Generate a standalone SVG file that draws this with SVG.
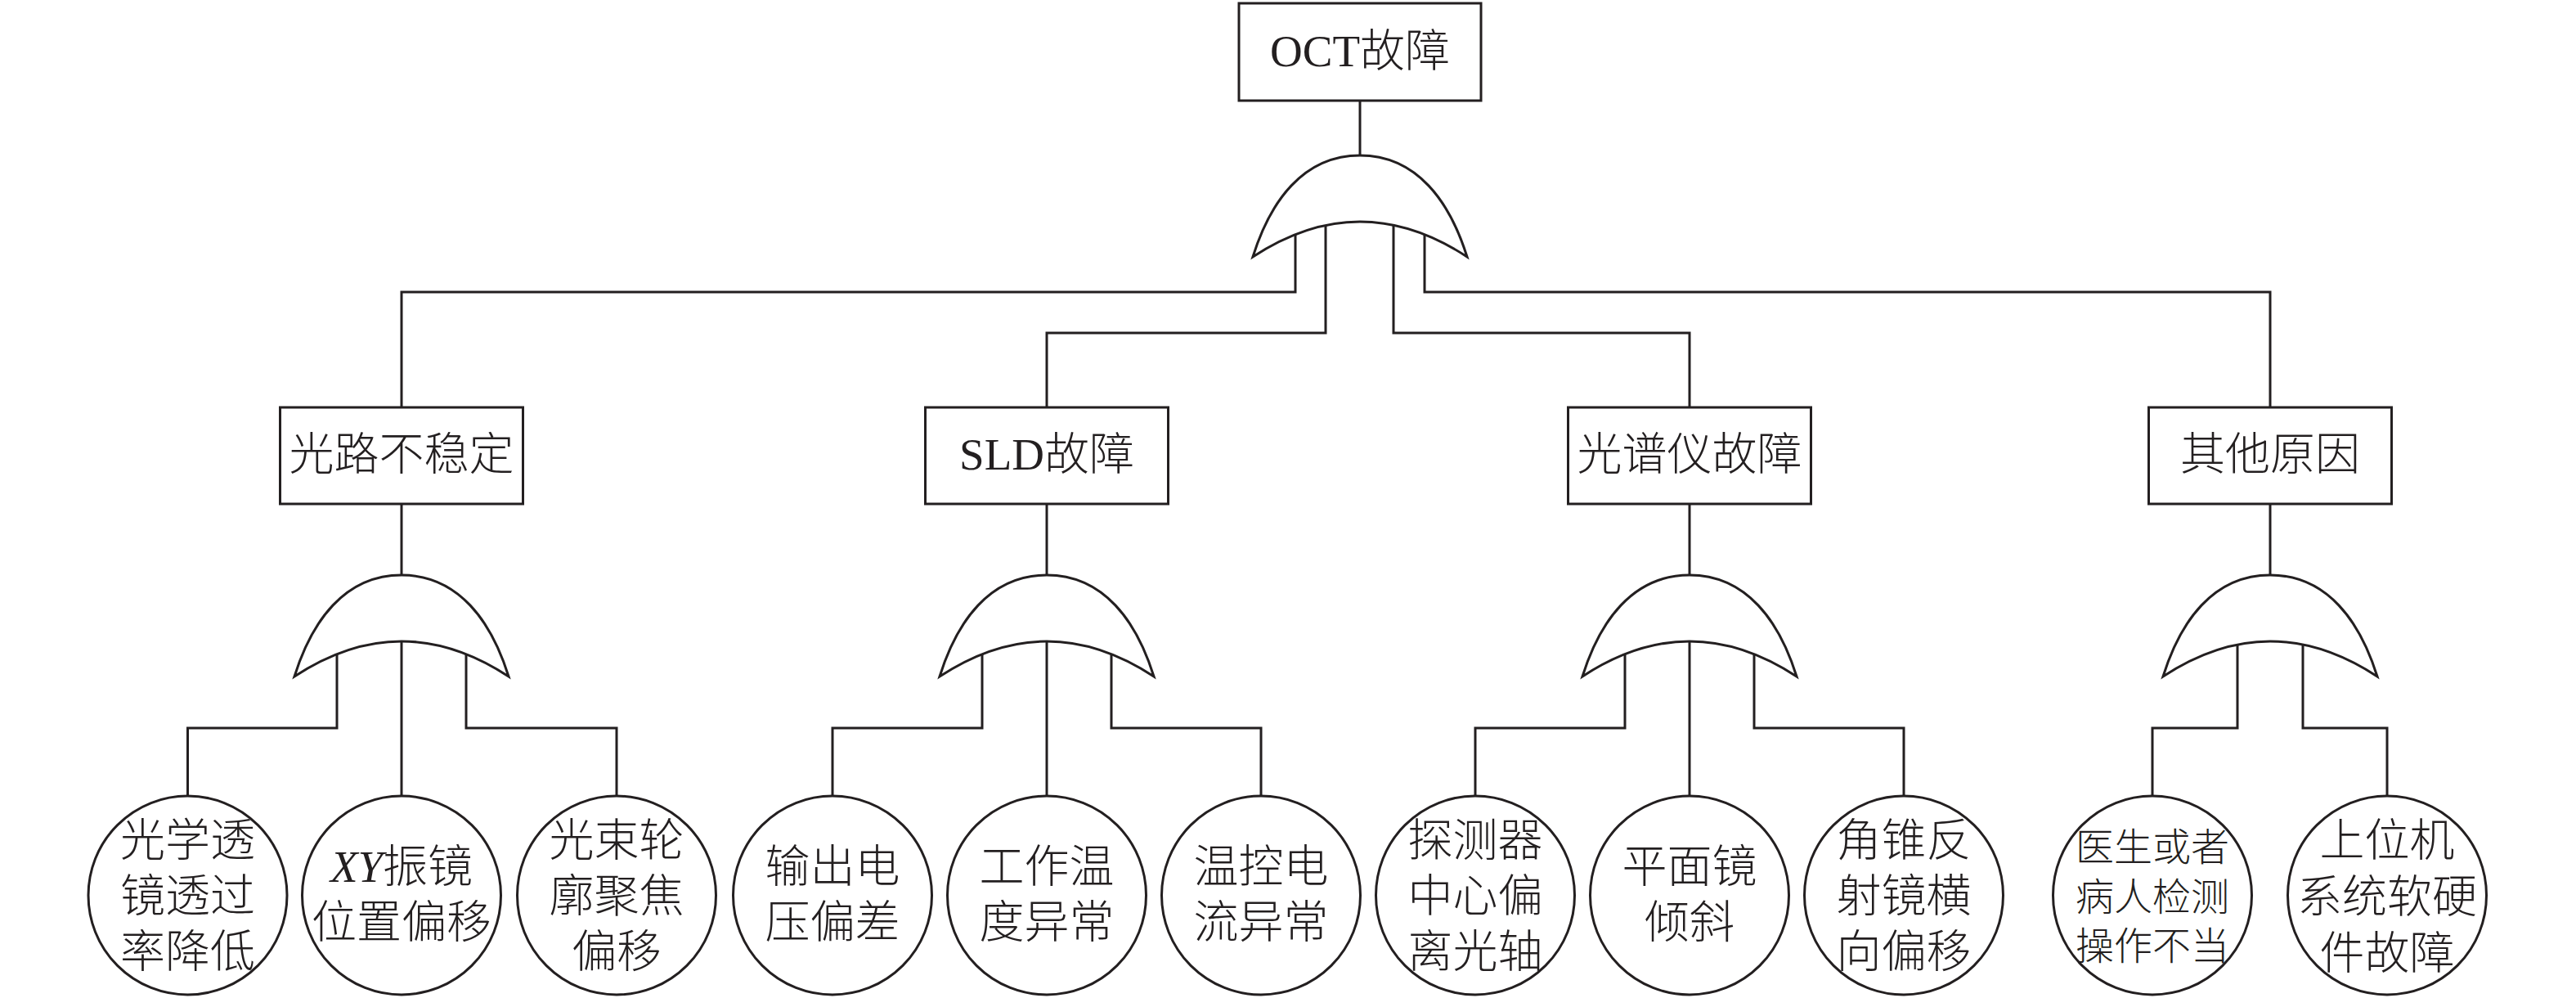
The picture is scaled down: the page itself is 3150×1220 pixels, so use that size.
<svg xmlns="http://www.w3.org/2000/svg" xmlns:xlink="http://www.w3.org/1999/xlink" width="3150" height="1220" viewBox="0 0 3150 1220">
<style>
.ln{fill:none;stroke:#231f20;stroke-width:3}
.bx{fill:#fff;stroke:#231f20;stroke-width:3}
.gt{fill:#fff;stroke:#231f20;stroke-width:3;stroke-linejoin:miter}
.t{font-family:"Liberation Serif","Noto Sans CJK SC",serif;font-size:55px;fill:#231f20;text-anchor:middle;font-weight:300}
.s{font-size:47px}
.i{font-style:italic}
</style>
<defs>
<path id="gate" d="M-131,124 C-110,57 -70,0 0,0 C70,0 110,57 131,124 Q0,38 -131,124 Z"/>
</defs>
<rect width="3150" height="1220" fill="#fff"/>
<g id="connectors" class="ln">
<path d="M1663,123 V195"/>
<path d="M1584,265 V357 H491 V498"/>
<path d="M1621,265 V407 H1280 V498"/>
<path d="M1704,265 V407 H2066 V498"/>
<path d="M1742,265 V357 H2776 V498"/>
<path d="M491,616 V708"/>
<path d="M1280,616 V708"/>
<path d="M2066,616 V708"/>
<path d="M2776,616 V708"/>
<path d="M412,780 V890 H229.5 V973"/>
<path d="M491,780 V973"/>
<path d="M570,780 V890 H754 V973"/>
<path d="M1201,780 V890 H1018 V973"/>
<path d="M1280,780 V973"/>
<path d="M1359,780 V890 H1542 V973"/>
<path d="M1987,780 V890 H1804 V973"/>
<path d="M2066,780 V973"/>
<path d="M2145,780 V890 H2328 V973"/>
<path d="M2736,780 V890 H2632 V973"/>
<path d="M2816,780 V890 H2919 V973"/>
</g>
<g id="gate-top"><use xlink:href="#gate" href="#gate" class="gt" x="1663" y="190"/></g>
<g id="gate-1"><use xlink:href="#gate" href="#gate" class="gt" x="491" y="703"/></g>
<g id="gate-2"><use xlink:href="#gate" href="#gate" class="gt" x="1280" y="703"/></g>
<g id="gate-3"><use xlink:href="#gate" href="#gate" class="gt" x="2066" y="703"/></g>
<g id="gate-4"><use xlink:href="#gate" href="#gate" class="gt" x="2776" y="703"/></g>

<g id="oct"><rect class="bx" x="1515" y="4" width="296" height="119"/><text class="t" x="1663" y="81">OCT故障</text></g>
<g id="optical-path"><rect class="bx" x="342.5" y="498" width="297" height="118"/><text class="t" x="491" y="574">光路不稳定</text></g>
<g id="sld"><rect class="bx" x="1131.5" y="498" width="297" height="118"/><text class="t" x="1280" y="574">SLD故障</text></g>
<g id="spectrometer"><rect class="bx" x="1917.5" y="498" width="297" height="118"/><text class="t" x="2066" y="574">光谱仪故障</text></g>
<g id="other"><rect class="bx" x="2627.5" y="498" width="297" height="118"/><text class="t" x="2776" y="574">其他原因</text></g>

<g id="lens"><circle class="bx" cx="229.5" cy="1094.5" r="121.5"/><text class="t" x="229.5" y="1046">光学透</text><text class="t" x="229.5" y="1114">镜透过</text><text class="t" x="229.5" y="1182">率降低</text></g>
<g id="xy"><circle class="bx" cx="491" cy="1094.5" r="121.5"/><text class="t" x="491" y="1078"><tspan class="i">XY</tspan>振镜</text><text class="t" x="491" y="1146">位置偏移</text></g>
<g id="beam"><circle class="bx" cx="754" cy="1094.5" r="121.5"/><text class="t" x="754" y="1046">光束轮</text><text class="t" x="754" y="1114">廓聚焦</text><text class="t" x="754" y="1182">偏移</text></g>
<g id="voltage"><circle class="bx" cx="1018" cy="1094.5" r="121.5"/><text class="t" x="1018" y="1078">输出电</text><text class="t" x="1018" y="1146">压偏差</text></g>
<g id="temp"><circle class="bx" cx="1280" cy="1094.5" r="121.5"/><text class="t" x="1280" y="1078">工作温</text><text class="t" x="1280" y="1146">度异常</text></g>
<g id="current"><circle class="bx" cx="1542" cy="1094.5" r="121.5"/><text class="t" x="1542" y="1078">温控电</text><text class="t" x="1542" y="1146">流异常</text></g>
<g id="detector"><circle class="bx" cx="1804" cy="1094.5" r="121.5"/><text class="t" x="1804" y="1046">探测器</text><text class="t" x="1804" y="1114">中心偏</text><text class="t" x="1804" y="1182">离光轴</text></g>
<g id="mirror"><circle class="bx" cx="2066" cy="1094.5" r="121.5"/><text class="t" x="2066" y="1078">平面镜</text><text class="t" x="2066" y="1146">倾斜</text></g>
<g id="corner"><circle class="bx" cx="2328" cy="1094.5" r="121.5"/><text class="t" x="2328" y="1046">角锥反</text><text class="t" x="2328" y="1114">射镜横</text><text class="t" x="2328" y="1182">向偏移</text></g>
<g id="operator"><circle class="bx" cx="2632" cy="1094.5" r="121.5"/><text class="t s" x="2632" y="1052">医生或者</text><text class="t s" x="2632" y="1113">病人检测</text><text class="t s" x="2632" y="1173">操作不当</text></g>
<g id="host"><circle class="bx" cx="2919" cy="1094.5" r="121.5"/><text class="t" x="2919" y="1046">上位机</text><text class="t" x="2919" y="1115">系统软硬</text><text class="t" x="2919" y="1184">件故障</text></g>
</svg>
